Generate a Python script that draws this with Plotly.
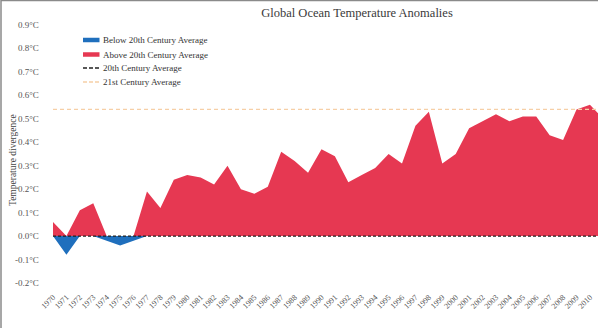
import plotly.graph_objects as go

years = list(range(1970, 2012))
anomaly = [0.06, -0.08, 0.11, 0.14, -0.02, -0.04, -0.02, 0.19, 0.12, 0.24,
           0.26, 0.25, 0.22, 0.30, 0.20, 0.18, 0.21, 0.36, 0.32, 0.27,
           0.37, 0.34, 0.23, 0.26, 0.29, 0.35, 0.31, 0.47, 0.53, 0.31,
           0.35, 0.46, 0.49, 0.52, 0.49, 0.51, 0.51, 0.43, 0.41, 0.54,
           0.56, 0.50]
avg_20th = 0.0
avg_21st = 0.54
y_ticks = [-0.2, -0.1, 0.0, 0.1, 0.2, 0.3, 0.4, 0.5, 0.6, 0.7, 0.8, 0.9]
legend_names = ["Below 20th Century Average", "Above 20th Century Average",
                "20th Century Average", "21st Century Average"]

RED = "#e63852"
BLUE = "#1f6fbd"
DARK = "#222222"
PEACH = "#f6cfa6"
FONT = "Liberation Serif"

above = [max(v, 0) for v in anomaly]
below = [min(v, 0) for v in anomaly]

fig = go.Figure()
fig.add_trace(go.Scatter(x=years, y=below, mode="lines", line=dict(width=0, color=BLUE),
                         fill="tozeroy", fillcolor=BLUE, showlegend=False, hoverinfo="skip"))
fig.add_trace(go.Scatter(x=years, y=above, mode="lines", line=dict(width=0, color=RED),
                         fill="tozeroy", fillcolor=RED, showlegend=False, hoverinfo="skip"))
fig.add_trace(go.Scatter(x=[years[0], years[-1]], y=[avg_20th, avg_20th], mode="lines",
                         line=dict(color=DARK, width=1.2, dash="3px,2px"), showlegend=False))
fig.add_trace(go.Scatter(x=[years[0], years[-1]], y=[avg_21st, avg_21st], mode="lines",
                         line=dict(color=PEACH, width=1.2, dash="4px,3px"), showlegend=False))

# plot-area geometry in pixels (used only to place the hand-drawn legend and labels)
L, R, T, B = 53, 598, 25, 283
W, H = R - L, B - T
def px(x): return (x - L) / W
def py(y): return (B - y) / H

shapes = [dict(type="rect", xref="paper", yref="paper",
               x0=px(1), x1=1.2, y0=-0.3, y1=py(0.5),
               line=dict(color="#8a8a8a", width=1.5), fillcolor="rgba(0,0,0,0)", layer="below")]
annotations = [dict(text="Temperature divergence", xref="paper", yref="paper",
                    x=px(13), y=py(160), textangle=-90, showarrow=False,
                    xanchor="center", yanchor="middle",
                    font=dict(family=FONT, size=9.5, color="#444444"))]
# y tick labels placed on the y scale
for t in y_ticks:
    annotations.append(dict(text=f"{t:.1f}°C", xref="paper", yref="y", x=px(40.5), y=t,
                            xanchor="right", yanchor="middle", showarrow=False,
                            font=dict(family=FONT, size=9, color="#555555")))
legend_styles = [dict(color=BLUE, width=4.5), dict(color=RED, width=4.5),
                 dict(color=DARK, width=1.4, dash="4px,2px"),
                 dict(color=PEACH, width=1.4, dash="4px,2px")]
legend_y = [40, 54.5, 68, 82]
for name, st, ly in zip(legend_names, legend_styles, legend_y):
    shapes.append(dict(type="line", xref="paper", yref="paper",
                       x0=px(83), x1=px(99.5), y0=py(ly), y1=py(ly), line=st))
    annotations.append(dict(text=name, xref="paper", yref="paper", x=px(100.5), y=py(ly),
                            xanchor="left", yanchor="middle", showarrow=False,
                            font=dict(family=FONT, size=9, color="#333333")))

fig.update_layout(
    template="none",
    width=598, height=328,
    margin=dict(l=L, r=0, t=T, b=328 - B, pad=0),
    plot_bgcolor="white", paper_bgcolor="white",
    font=dict(family=FONT, color="#555555", size=9),
    showlegend=False,
    title=dict(text="Global Ocean Temperature Anomalies", x=357/598, xanchor="center",
               y=1 - 13/328, yanchor="middle",
               font=dict(family=FONT, size=12.5, color="#3a3a3a")),
    xaxis=dict(range=[1970, 2010.6], tickmode="array", tickvals=years,
               ticktext=[str(y) for y in years], tickangle=-45, showgrid=False,
               zeroline=False, showline=False, ticks="", automargin=False,
               ticklabelstandoff=7,
               tickfont=dict(family=FONT, size=8, color="#555555")),
    yaxis=dict(range=[-0.2, 0.9], tickmode="array", tickvals=y_ticks,
               showticklabels=False, showgrid=False,
               zeroline=False, showline=False, automargin=False, ticks=""),
    shapes=shapes,
    annotations=annotations,
)

fig.write_html("out.html")
